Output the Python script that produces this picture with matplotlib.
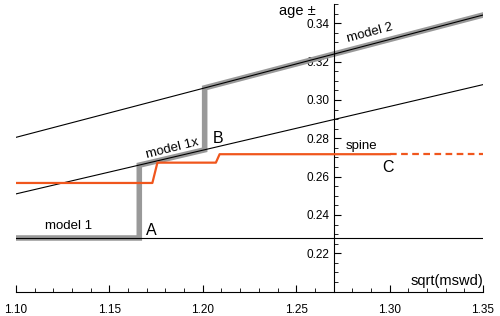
import matplotlib
matplotlib.use("Agg")
import matplotlib.pyplot as plt
from matplotlib.ticker import MultipleLocator

plt.rcParams['font.family'] = ['Liberation Sans', 'DejaVu Sans']

# data
x_span = [1.10, 1.35]
model1 = [0.228, 0.228]
model1x = [0.251, 0.308]
model2 = [0.2805, 0.3443]

path_x = [1.10, 1.166, 1.166, 1.201, 1.201, 1.35]
path_y = [0.228, 0.228, 0.266, 0.274, 0.3063, 0.3443]

spine_x = [1.10, 1.173, 1.1757, 1.207, 1.209, 1.30]
spine_y = [0.2567, 0.2567, 0.2673, 0.2673, 0.2717, 0.2717]
spine_dash_x = [1.30, 1.35]
spine_dash_y = [0.2717, 0.2717]

xticks = [1.10, 1.15, 1.20, 1.25, 1.30, 1.35]
yticks = [0.22, 0.24, 0.26, 0.28, 0.30, 0.32, 0.34]

orange = '#f0561d'

fig = plt.figure(figsize=(5.0, 3.16), dpi=100)
ax = fig.add_axes([0.032, 0.077, 0.934, 0.910])

ax.plot(path_x, path_y, color='#999999', lw=4.0, solid_joinstyle='miter',
        solid_capstyle='projecting', zorder=2)
ax.plot(x_span, model1, color='black', lw=0.8, zorder=3)
ax.plot(x_span, model1x, color='black', lw=0.8, zorder=3)
ax.plot(x_span, model2, color='black', lw=0.8, zorder=3)
ax.plot(spine_x, spine_y, color=orange, lw=1.6, zorder=4)
ax.plot(spine_dash_x, spine_dash_y, color=orange, lw=1.6, ls=(0, (3, 2)), zorder=4)

ax.set_xlim(1.10, 1.35)
ax.set_ylim(0.20, 0.35)
ax.spines['left'].set_position(('data', 1.27))
ax.spines['bottom'].set_position(('data', 0.20))
ax.spines['top'].set_visible(False)
ax.spines['right'].set_visible(False)
for s in ['left', 'bottom']:
    ax.spines[s].set_linewidth(0.8)

ax.set_xticks(xticks)
ax.set_xticklabels([f"{v:.2f}" for v in xticks])
ax.set_yticks(yticks)
ax.set_yticklabels([f"{v:.2f}" for v in yticks])
ax.xaxis.set_minor_locator(MultipleLocator(0.01))
ax.yaxis.set_minor_locator(MultipleLocator(0.005))
ax.tick_params(axis='both', which='major', direction='in', length=5, width=0.8,
               labelsize=8.5)
ax.tick_params(axis='x', which='major', pad=9)
ax.tick_params(axis='y', which='major', pad=3)
ax.tick_params(axis='both', which='minor', direction='in', length=3, width=0.6)
ax.patch.set_alpha(0)

ax.text(1.1283, 0.2342, 'model 1', fontsize=9.5, ha='center', va='center')
ax.text(1.1723, 0.2319, 'A', fontsize=11.5, ha='center', va='center')
ax.text(1.1835, 0.2748, 'model 1x', fontsize=9.5, ha='center', va='center', rotation=14)
ax.text(1.2081, 0.2801, 'B', fontsize=11.5, ha='center', va='center')
ax.text(1.2847, 0.2759, 'spine', fontsize=9.5, ha='center', va='center')
ax.text(1.2991, 0.2649, 'C', fontsize=11.5, ha='center', va='center')
ax.text(1.2895, 0.3347, 'model 2', fontsize=9.5, ha='center', va='center', rotation=15)
ax.text(1.2504, 0.3462, 'age ±', fontsize=10.5, ha='center', va='center')
ax.text(1.35, 0.2056, 'sqrt(mswd)', fontsize=10.5, ha='right', va='center')

fig.savefig('out.png', dpi=100)
